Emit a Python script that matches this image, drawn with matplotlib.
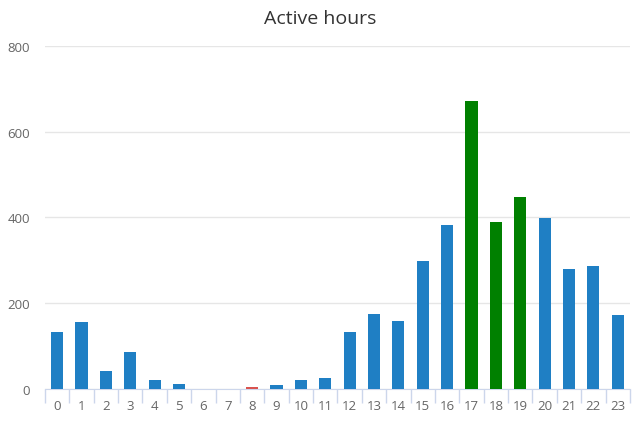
import matplotlib
matplotlib.use("Agg")
import matplotlib.pyplot as plt
import numpy as np

plt.rcParams["font.family"] = ["Open Sans", "DejaVu Sans"]

hours = [str(h) for h in range(24)]
counts = [133, 156, 42, 86, 21, 12, 0, 0, 4, 9, 21, 26,
          133, 175, 159, 298, 382, 671, 389, 448, 399, 280, 287, 172]
blue = "#1f7fc4"
green = "#008000"
red = "#d9534f"
colors = [blue] * 24
colors[8] = red
for h in (17, 18, 19):
    colors[h] = green

fig = plt.figure(figsize=(6.4, 4.27), dpi=100)
ax = fig.add_axes([0.0703, 0.0867, 0.914, 0.8033])

x = np.arange(len(hours))
ax.bar(x, counts, width=0.5, color=colors, zorder=3)

ax.set_xlim(-0.5, 23.5)
ax.set_ylim(0, 800)
ax.set_yticks([0, 200, 400, 600, 800])
ax.yaxis.grid(True, color="#e6e6e6", linewidth=1, zorder=0)
ax.tick_params(axis="y", length=0, labelsize=9.5, labelcolor="#666666", pad=11)

ax.set_xticks(x)
ax.set_xticklabels(hours)
ax.set_xticks(np.arange(-0.5, 24, 1), minor=True)
ax.tick_params(axis="x", which="major", length=0, labelsize=9.5,
               labelcolor="#666666", pad=7)
ax.tick_params(axis="x", which="minor", length=10, color="#ccd6eb", width=1)

for s in ("top", "right", "left"):
    ax.spines[s].set_visible(False)
ax.spines["bottom"].set_color("#ccd6eb")

fig.text(0.5, 0.955, "Active hours", ha="center", va="center",
         fontsize=14, color="#333333")

fig.savefig("out.png", dpi=100)
